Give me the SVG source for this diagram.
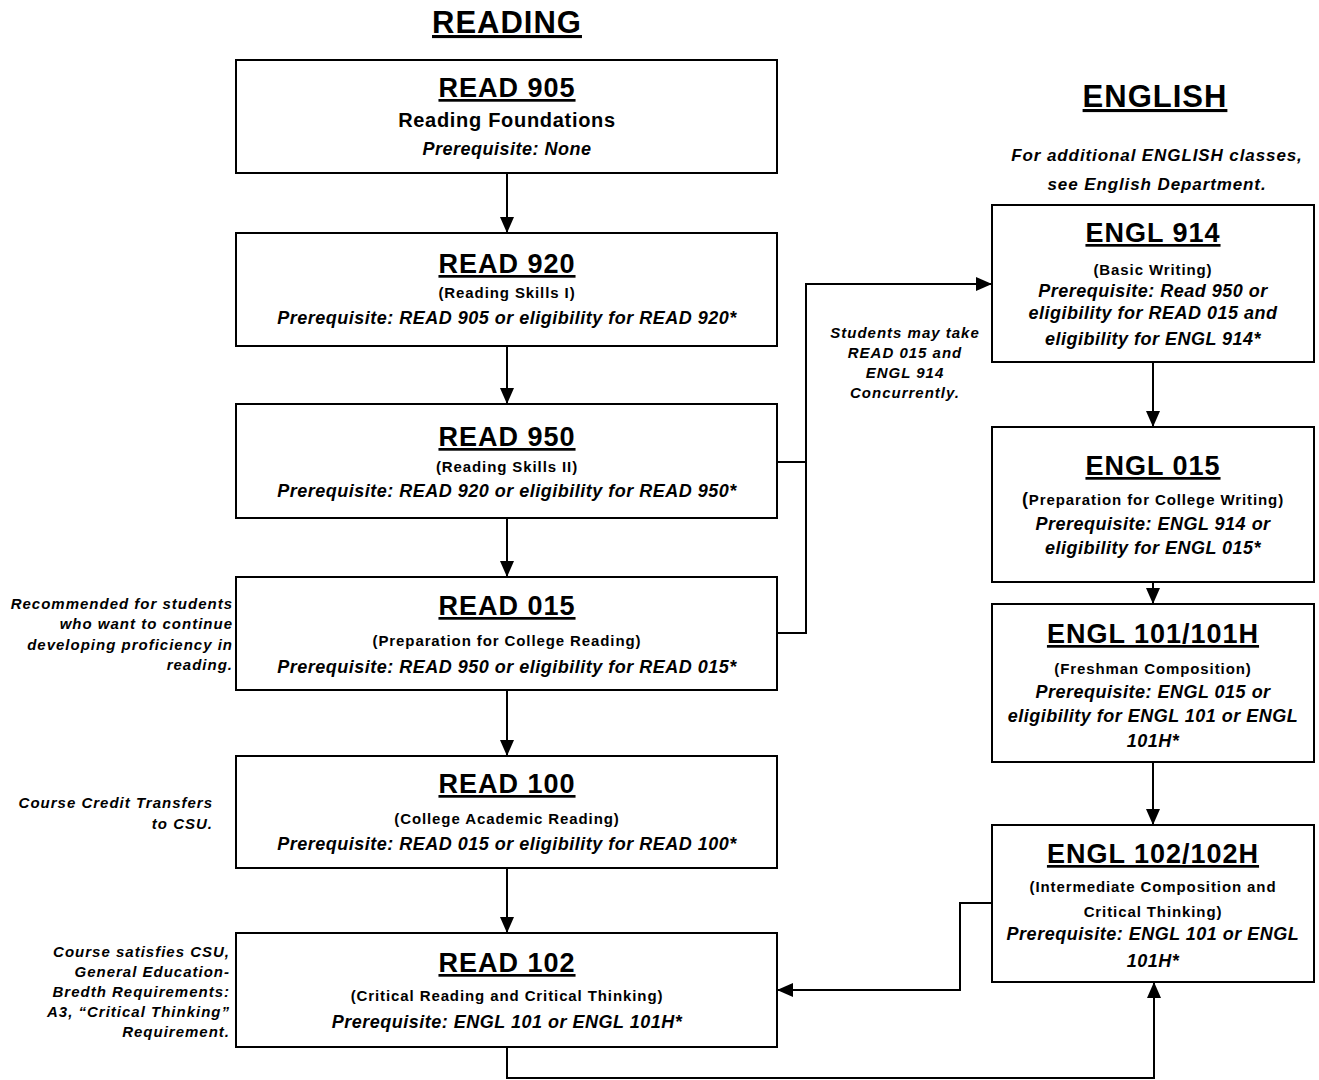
<svg xmlns="http://www.w3.org/2000/svg" width="1319" height="1080" viewBox="0 0 1319 1080">
<style>
.box{fill:#fff;stroke:#000;stroke-width:2}
.t{font-family:"Liberation Sans",Arial,sans-serif;font-weight:bold;text-anchor:middle;fill:#000}
.title{font-size:27px;letter-spacing:1px;text-decoration:underline}
.head{font-size:31px;letter-spacing:1px;text-decoration:underline}
.sub{font-size:15px;letter-spacing:0.9px}
.pre{font-size:18px;font-style:italic;letter-spacing:0.5px}
.note{font-size:15px;font-style:italic;letter-spacing:1px}
.end{text-anchor:end}
.conn{fill:none;stroke:#000;stroke-width:2}
</style>
<defs>
<marker id="arr" markerUnits="userSpaceOnUse" markerWidth="16" markerHeight="14" viewBox="0 0 16 14" refX="16" refY="7" orient="auto">
<path d="M0,0 L16,7 L0,14 z" fill="#000"/>
</marker>
</defs>
<rect width="1319" height="1080" fill="#fff"/>

<g id="headings">
<text class="t head" x="507" y="33">READING</text>
<text class="t head" x="1155" y="107">ENGLISH</text>
<text class="t pre" x="1157" y="161" style="font-size:17px;letter-spacing:0.9px">For additional ENGLISH classes,</text>
<text class="t pre" x="1157" y="190" style="font-size:17px;letter-spacing:0.9px">see English Department.</text>
</g>

<g id="connectors">
<line class="conn" x1="507" y1="173" x2="507" y2="233" marker-end="url(#arr)"/>
<line class="conn" x1="507" y1="346" x2="507" y2="404" marker-end="url(#arr)"/>
<line class="conn" x1="507" y1="518" x2="507" y2="577" marker-end="url(#arr)"/>
<line class="conn" x1="507" y1="690" x2="507" y2="756" marker-end="url(#arr)"/>
<line class="conn" x1="507" y1="868" x2="507" y2="933" marker-end="url(#arr)"/>
<polyline class="conn" points="777,462 806,462"/>
<polyline class="conn" points="777,633 806,633 806,284 992,284" marker-end="url(#arr)"/>
<line class="conn" x1="1153" y1="362" x2="1153" y2="427" marker-end="url(#arr)"/>
<line class="conn" x1="1153" y1="582" x2="1153" y2="604" marker-end="url(#arr)"/>
<line class="conn" x1="1153" y1="762" x2="1153" y2="825" marker-end="url(#arr)"/>
<polyline class="conn" points="992,903 960,903 960,990 777,990" marker-end="url(#arr)"/>
<polyline class="conn" points="507,1047 507,1078 1154,1078 1154,982" marker-end="url(#arr)"/>
</g>

<g id="read905">
<rect class="box" x="236" y="60" width="541" height="113"/>
<text class="t title" x="507" y="97">READ 905</text>
<text class="t" x="507" y="127" style="font-size:20px;letter-spacing:0.7px">Reading Foundations</text>
<text class="t pre" x="507" y="155">Prerequisite: None</text>
</g>

<g id="read920">
<rect class="box" x="236" y="233" width="541" height="113"/>
<text class="t title" x="507" y="273">READ 920</text>
<text class="t sub" x="507" y="298">(Reading Skills I)</text>
<text class="t pre" x="507" y="324">Prerequisite: READ 905 or eligibility for READ 920*</text>
</g>

<g id="read950">
<rect class="box" x="236" y="404" width="541" height="114"/>
<text class="t title" x="507" y="446">READ 950</text>
<text class="t sub" x="507" y="472">(Reading Skills II)</text>
<text class="t pre" x="507" y="497">Prerequisite: READ 920 or eligibility for READ 950*</text>
</g>

<g id="read015">
<rect class="box" x="236" y="577" width="541" height="113"/>
<text class="t title" x="507" y="615">READ 015</text>
<text class="t sub" x="507" y="646">(Preparation for College Reading)</text>
<text class="t pre" x="507" y="673">Prerequisite: READ 950 or eligibility for READ 015*</text>
</g>

<g id="read100">
<rect class="box" x="236" y="756" width="541" height="112"/>
<text class="t title" x="507" y="793">READ 100</text>
<text class="t sub" x="507" y="824">(College Academic Reading)</text>
<text class="t pre" x="507" y="850">Prerequisite: READ 015 or eligibility for READ 100*</text>
</g>

<g id="read102">
<rect class="box" x="236" y="933" width="541" height="114"/>
<text class="t title" x="507" y="972">READ 102</text>
<text class="t sub" x="507" y="1001">(Critical Reading and Critical Thinking)</text>
<text class="t pre" x="507" y="1028">Prerequisite: ENGL 101 or ENGL 101H*</text>
</g>

<g id="engl914">
<rect class="box" x="992" y="205" width="322" height="157"/>
<text class="t title" x="1153" y="242">ENGL 914</text>
<text class="t sub" x="1153" y="275">(Basic Writing)</text>
<text class="t pre" x="1153" y="297">Prerequisite: Read 950 or</text>
<text class="t pre" x="1153" y="319">eligibility for READ 015 and</text>
<text class="t pre" x="1153" y="345">eligibility for ENGL 914*</text>
</g>

<g id="engl015">
<rect class="box" x="992" y="427" width="322" height="155"/>
<text class="t title" x="1153" y="475">ENGL 015</text>
<text class="t sub" x="1153" y="505"><tspan style="font-size:18px">(</tspan>Preparation for College Writing)</text>
<text class="t pre" x="1153" y="530">Prerequisite: ENGL 914 or</text>
<text class="t pre" x="1153" y="554">eligibility for ENGL 015*</text>
</g>

<g id="engl101">
<rect class="box" x="992" y="604" width="322" height="158"/>
<text class="t title" x="1153" y="643">ENGL 101/101H</text>
<text class="t sub" x="1153" y="674">(Freshman Composition)</text>
<text class="t pre" x="1153" y="698">Prerequisite: ENGL 015 or</text>
<text class="t pre" x="1153" y="722">eligibility for ENGL 101 or ENGL</text>
<text class="t pre" x="1153" y="747">101H*</text>
</g>

<g id="engl102">
<rect class="box" x="992" y="825" width="322" height="157"/>
<text class="t title" x="1153" y="863">ENGL 102/102H</text>
<text class="t sub" x="1153" y="892">(Intermediate Composition and</text>
<text class="t sub" x="1153" y="917">Critical Thinking)</text>
<text class="t pre" x="1153" y="940">Prerequisite: ENGL 101 or ENGL</text>
<text class="t pre" x="1153" y="967">101H*</text>
</g>

<g id="notes">
<text class="t note" x="905" y="338">Students may take</text>
<text class="t note" x="905" y="358">READ 015 and</text>
<text class="t note" x="905" y="378">ENGL 914</text>
<text class="t note" x="905" y="398">Concurrently.</text>
<text class="t note end" x="233" y="609">Recommended for students</text>
<text class="t note end" x="233" y="629">who want to continue</text>
<text class="t note end" x="233" y="650">developing proficiency in</text>
<text class="t note end" x="233" y="670">reading.</text>
<text class="t note end" x="213" y="808">Course Credit Transfers</text>
<text class="t note end" x="213" y="829">to CSU.</text>
<text class="t note end" x="230" y="957">Course satisfies CSU,</text>
<text class="t note end" x="230" y="977">General Education-</text>
<text class="t note end" x="230" y="997">Bredth Requirements:</text>
<text class="t note end" x="230" y="1017">A3, “Critical Thinking”</text>
<text class="t note end" x="230" y="1037">Requirement.</text>
</g>
</svg>
